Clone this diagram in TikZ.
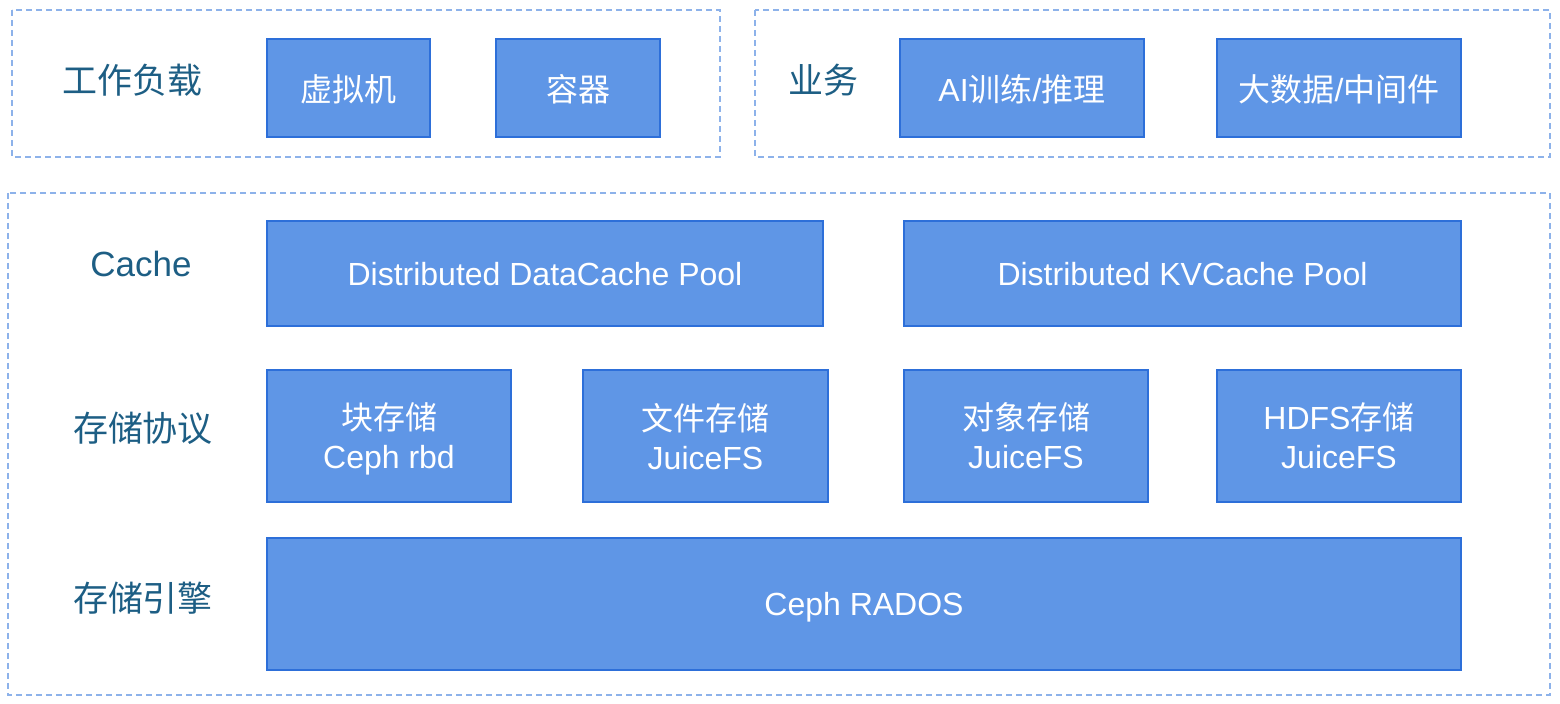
\documentclass[tikz,border=0pt]{standalone}
\usepackage{fontspec}
\setmainfont{Liberation Sans}
\newfontfamily\cjk{Noto Sans CJK SC}
\definecolor{boxfill}{HTML}{5F96E6}
\definecolor{boxline}{HTML}{2D6FD9}
\definecolor{grpline}{HTML}{8DB2EA}
\definecolor{lbltext}{HTML}{1D5E84}

\begin{document}
\begin{tikzpicture}[x=0.5pt,y=-0.5pt,
  blk/.style={draw=boxline,line width=1pt,fill=boxfill,text=white,inner sep=0pt,outer sep=0pt,align=center,text depth=0pt,font=\fontsize{16}{19.5}\selectfont},
  grp/.style={draw=grpline,line width=0.75pt,dash pattern=on 3pt off 2pt},
  lbl/.style={text=lbltext,inner sep=0pt,font=\fontsize{17.5}{21}\selectfont}]
\useasboundingbox (0,0) rectangle (1560,704);
% groups
\draw[grp] (12,10) rectangle (720,157);
\draw[grp] (755,10) rectangle (1550,157);
\draw[grp] (8,193) rectangle (1550,695);
% top row
\node[lbl] (load) at (132,80) {\cjk 工作负载};
\node[blk,minimum width=81.5pt,minimum height=49pt] (vm) at (348.5,88) {\cjk 虚拟机};
\node[blk,minimum width=82pt,minimum height=49pt] (ctr) at (578,88) {\cjk 容器};
\node[lbl] (biz) at (823,80) {\cjk 业务};
\node[blk,minimum width=122pt,minimum height=49pt] (ai) at (1022,88) {AI{\cjk 训练}/{\cjk 推理}};
\node[blk,minimum width=122pt,minimum height=49pt] (bigdata) at (1339,88) {{\cjk 大数据}/{\cjk 中间件}};
% cache
\node[lbl] (cache) at (141,264) {Cache};
\node[blk,minimum width=278pt,minimum height=52.5pt] (dcache) at (545,273.5) {Distributed DataCache Pool};
\node[blk,minimum width=278.5pt,minimum height=52.5pt] (kvcache) at (1182.5,273.5) {Distributed KVCache Pool};
% protocols
\node[lbl] (proto) at (143,428) {\cjk 存储协议};
\node[blk,minimum width=122pt,minimum height=66pt] (block) at (389,436) {{\cjk 块存储}\\Ceph rbd};
\node[blk,minimum width=122.5pt,minimum height=66pt] (file) at (705.5,436) {{\cjk 文件存储}\\JuiceFS};
\node[blk,minimum width=122pt,minimum height=66pt] (obj) at (1026,436) {{\cjk 对象存储}\\JuiceFS};
\node[blk,minimum width=122pt,minimum height=66pt] (hdfs) at (1339,436) {HDFS{\cjk 存储}\\JuiceFS};
% engine
\node[lbl] (engine) at (143,598) {\cjk 存储引擎};
\node[blk,minimum width=597pt,minimum height=66pt] (rados) at (864,604) {Ceph RADOS};
\end{tikzpicture}
\end{document}
